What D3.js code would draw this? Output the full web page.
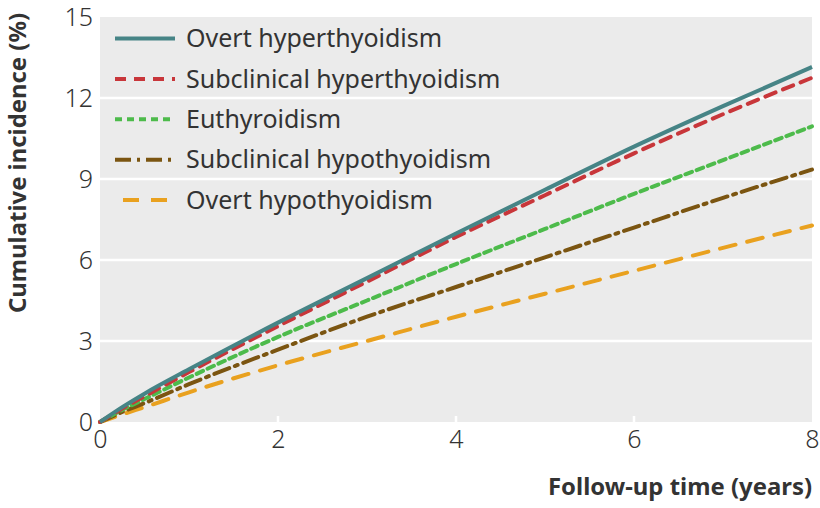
<!DOCTYPE html>
<html><head><meta charset="utf-8">
<script src="https://cdn.jsdelivr.net/npm/d3@7"></script>
<style>body{margin:0;background:#fff}svg{display:block}</style>
</head><body><svg id="c" width="820" height="508"></svg>
<script>
const years = [0, 0.25, 0.5, 1, 2, 3, 4, 5, 6, 7, 8];
const overtHyper      = [0, 0.55, 1.05, 1.95, 3.68, 5.33, 6.98, 8.6, 10.2, 11.7, 13.15];
const subclinHyper    = [0, 0.5, 0.95, 1.85, 3.55, 5.2, 6.85, 8.4, 9.95, 11.4, 12.75];
const euthyroid       = [0, 0.45, 0.85, 1.65, 3.15, 4.5, 5.85, 7.15, 8.45, 9.7, 10.95];
const subclinHypo     = [0, 0.37, 0.7, 1.4, 2.68, 3.9, 5.0, 6.1, 7.2, 8.3, 9.35];
const overtHypo       = [0, 0.28, 0.55, 1.1, 2.1, 3.0, 3.9, 4.75, 5.6, 6.45, 7.28];
const seriesNames = ["Overt hyperthyoidism","Subclinical hyperthyoidism","Euthyroidism","Subclinical hypothyoidism","Overt hypothyoidism"];
const seriesValues = [overtHyper, subclinHyper, euthyroid, subclinHypo, overtHypo];
const colors = ["#468486","#c8363a","#4dbb4b","#7b5511","#e9a11f"];
const dashes = [null, "11,8", "7,5", "16,6,3,6", "16,12"];
const xTicks = [0,2,4,6,8];
const yTicks = [0,3,6,9,12,15];

const svg = d3.select("#c");
const L = 100, R = 812, T = 17, B = 422;
const x = d3.scaleLinear().domain([0,8]).range([L,R]);
const y = d3.scaleLinear().domain([0,15]).range([B,T]);
const font = "'Noto Sans', sans-serif";
const txt = "#333";

svg.append("rect").attr("x",L).attr("y",T).attr("width",R-L).attr("height",B-T).attr("fill","#ebebeb");
// grid
svg.append("g").selectAll("line").data(yTicks.filter(d=>d>0&&d<15)).join("line")
  .attr("x1",L).attr("x2",R).attr("y1",d=>y(d)).attr("y2",d=>y(d))
  .attr("stroke","#fff").attr("stroke-width",2.5);
svg.append("g").selectAll("line").data(xTicks.filter(d=>d>0&&d<8)).join("line")
  .attr("x1",d=>x(d)).attr("x2",d=>x(d)).attr("y1",B).attr("y2",B-6)
  .attr("stroke","#fff").attr("stroke-width",2.5);

// axes labels
const yAxis = d3.axisLeft(y).tickValues(yTicks).tickSize(0).tickPadding(7);
const gy = svg.append("g").attr("transform",`translate(${L},0)`).call(yAxis);
gy.select(".domain").remove();
gy.selectAll("text").attr("font-family",font).attr("font-size",25).attr("font-weight",300).attr("fill",txt);
const xAxis = d3.axisBottom(x).tickValues(xTicks).tickSize(0).tickPadding(8);
const gx = svg.append("g").attr("transform",`translate(0,${B})`).call(xAxis);
gx.select(".domain").remove();
gx.selectAll("text").attr("font-family",font).attr("font-size",25).attr("font-weight",300).attr("fill",txt);

// lines
const line = d3.line().x((d,i)=>x(years[i])).y(d=>y(d)).curve(d3.curveMonotoneX);
const order = [4,3,2,1,0];
order.forEach(k=>{
  svg.append("path").datum(seriesValues[k]).attr("d",line)
    .attr("fill","none").attr("stroke",colors[k]).attr("stroke-width",4)
    .attr("stroke-dasharray",dashes[k]).attr("stroke-linecap", k===0?"butt":"round");
});

// legend
const lg = svg.append("g");
seriesNames.forEach((n,i)=>{
  const cy = 38.5 + i*40.4;
  lg.append("line").attr("x1",i===4?123:115).attr("x2",175).attr("y1",cy).attr("y2",cy)
    .attr("stroke",colors[i]).attr("stroke-width",4).attr("stroke-dasharray",dashes[i]);
  lg.append("text").attr("x",186).attr("y",cy).attr("dy","0.35em")
    .attr("font-family",font).attr("font-size",25).attr("fill",txt).text(n);
});

// axis titles
svg.append("text").attr("x",812).attr("y",495).attr("text-anchor","end")
  .attr("font-family",font).attr("font-size",24).attr("font-weight",700).attr("fill",txt)
  .attr("textLength",264).attr("lengthAdjust","spacingAndGlyphs")
  .text("Follow-up time (years)");
svg.append("text").attr("transform","translate(26,163) rotate(-90)").attr("text-anchor","middle")
  .attr("font-family",font).attr("font-size",24).attr("font-weight",700).attr("fill",txt)
  .attr("textLength",300).attr("lengthAdjust","spacingAndGlyphs")
  .text("Cumulative incidence (%)");
</script></body></html>
